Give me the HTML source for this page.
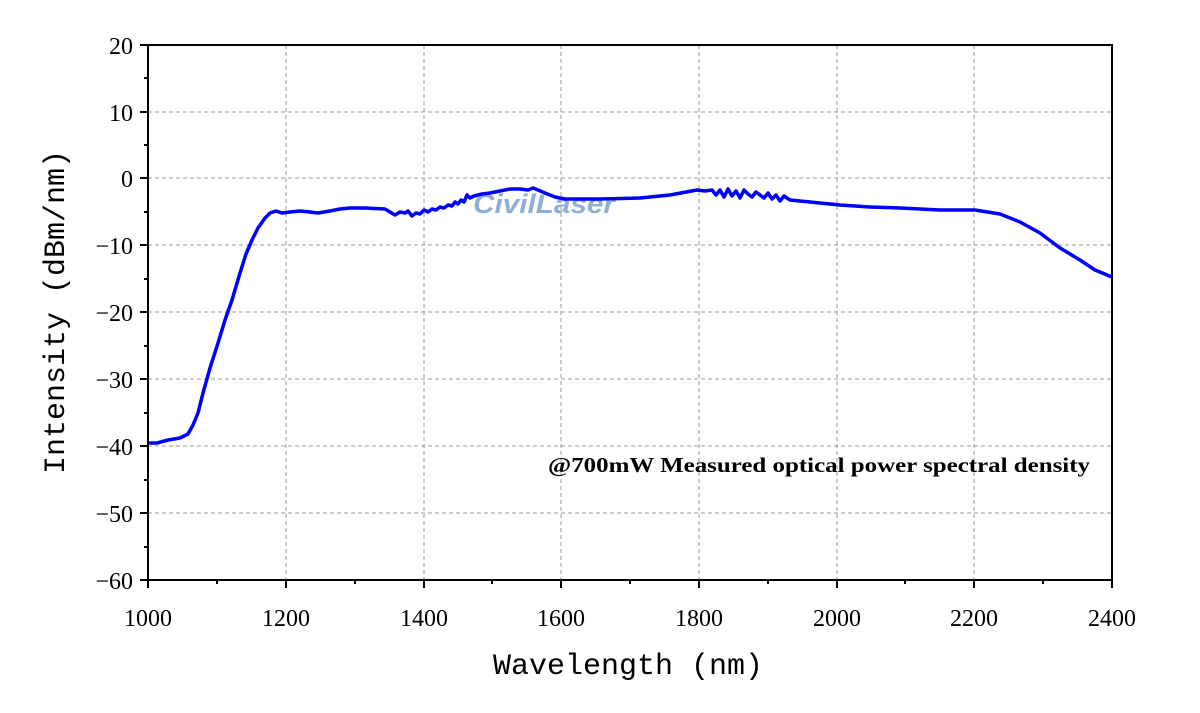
<!DOCTYPE html>
<html><head><meta charset="utf-8"><style>body{margin:0;background:#fff}svg{display:block}</style></head><body>
<svg width="1200" height="713" viewBox="0 0 1200 713" xmlns="http://www.w3.org/2000/svg">
<g stroke="#999" stroke-width="1" stroke-dasharray="4,3" fill="none">
<line x1="286" y1="45" x2="286" y2="580"/><line x1="424" y1="45" x2="424" y2="580"/><line x1="561" y1="45" x2="561" y2="580"/><line x1="699" y1="45" x2="699" y2="580"/><line x1="837" y1="45" x2="837" y2="580"/><line x1="974" y1="45" x2="974" y2="580"/>
<line x1="148" y1="112" x2="1112" y2="112"/><line x1="148" y1="178" x2="1112" y2="178"/><line x1="148" y1="245" x2="1112" y2="245"/><line x1="148" y1="312" x2="1112" y2="312"/><line x1="148" y1="379" x2="1112" y2="379"/><line x1="148" y1="446" x2="1112" y2="446"/><line x1="148" y1="513" x2="1112" y2="513"/>
</g>
<text x="473" y="213" font-family="Liberation Sans,sans-serif" font-weight="bold" font-style="italic" font-size="27" fill="#8fb0d6" textLength="142" lengthAdjust="spacingAndGlyphs">CivilLaser</text>
<polyline fill="none" stroke="#0000ff" stroke-width="3.5" stroke-linejoin="round" points="148,443 157,443 168,440 180,438 188,434 193,425 198,413 203,393 210,368 218,343 225,320 232,300 240,273 246,254 252,240 258,228 265,218 270,213 276,211 282,213 290,212 300,211 310,212 318,213 330,211 340,209 350,208 365,208 385,209 390,212 395,215 400,212 405,213 408,211 412,216 416,213 420,214 424,210 428,212 432,209 436,210 440,207 444,208 448,205 452,206 455,202 458,204 461,200 464,202 467,195 470,198 474,196 478,195 482,194 490,193 500,191 510,189 520,189 528,190 533,188 538,190 545,193 555,197 565,199 580,199 600,199 640,198 670,195 697,190 705,191 712,190 716,195 720,190 724,197 728,189 732,196 736,191 740,198 744,190 748,194 752,197 756,192 760,195 764,198 768,193 772,199 776,195 780,201 784,196 790,200 800,201 840,205 870,207 900,208 940,210 975,210 1000,214 1020,222 1040,233 1060,248 1080,260 1095,270 1112,277"/>
<rect x="148" y="45" width="964" height="535" fill="none" stroke="#000" stroke-width="2"/>
<g stroke="#000" stroke-width="2">
<line x1="148" y1="580" x2="148" y2="588"/><line x1="286" y1="580" x2="286" y2="588"/><line x1="424" y1="580" x2="424" y2="588"/><line x1="561" y1="580" x2="561" y2="588"/><line x1="699" y1="580" x2="699" y2="588"/><line x1="837" y1="580" x2="837" y2="588"/><line x1="974" y1="580" x2="974" y2="588"/><line x1="1112" y1="580" x2="1112" y2="588"/>
<line x1="217" y1="580" x2="217" y2="584"/><line x1="355" y1="580" x2="355" y2="584"/><line x1="492" y1="580" x2="492" y2="584"/><line x1="630" y1="580" x2="630" y2="584"/><line x1="768" y1="580" x2="768" y2="584"/><line x1="905" y1="580" x2="905" y2="584"/><line x1="1043" y1="580" x2="1043" y2="584"/>
<line x1="140" y1="45" x2="148" y2="45"/><line x1="140" y1="112" x2="148" y2="112"/><line x1="140" y1="178" x2="148" y2="178"/><line x1="140" y1="245" x2="148" y2="245"/><line x1="140" y1="312" x2="148" y2="312"/><line x1="140" y1="379" x2="148" y2="379"/><line x1="140" y1="446" x2="148" y2="446"/><line x1="140" y1="513" x2="148" y2="513"/><line x1="140" y1="580" x2="148" y2="580"/>
<line x1="144" y1="78" x2="148" y2="78"/><line x1="144" y1="145" x2="148" y2="145"/><line x1="144" y1="212" x2="148" y2="212"/><line x1="144" y1="279" x2="148" y2="279"/><line x1="144" y1="346" x2="148" y2="346"/><line x1="144" y1="413" x2="148" y2="413"/><line x1="144" y1="480" x2="148" y2="480"/><line x1="144" y1="547" x2="148" y2="547"/>
</g>
<g font-family="Liberation Serif,serif" font-size="24" fill="#000" text-anchor="end">
<text x="133" y="54">20</text><text x="133" y="121">10</text><text x="133" y="187">0</text><text x="133" y="254">−10</text><text x="133" y="321">−20</text><text x="133" y="388">−30</text><text x="133" y="455">−40</text><text x="133" y="522">−50</text><text x="133" y="589">−60</text>
</g>
<g font-family="Liberation Serif,serif" font-size="24" fill="#000" text-anchor="middle">
<text x="148" y="626">1000</text><text x="286" y="626">1200</text><text x="424" y="626">1400</text><text x="561" y="626">1600</text><text x="699" y="626">1800</text><text x="837" y="626">2000</text><text x="974" y="626">2200</text><text x="1112" y="626">2400</text>
<text x="628" y="674" font-size="30" font-family="Liberation Mono,monospace">Wavelength (nm)</text>
<text transform="translate(64,312) rotate(-90)" font-size="30" font-family="Liberation Mono,monospace">Intensity (dBm/nm)</text>
</g>
<text x="548" y="472" font-family="Liberation Serif,serif" font-weight="bold" font-size="21" fill="#000" textLength="542" lengthAdjust="spacingAndGlyphs">@700mW Measured optical power spectral density</text>
</svg>
</body></html>
